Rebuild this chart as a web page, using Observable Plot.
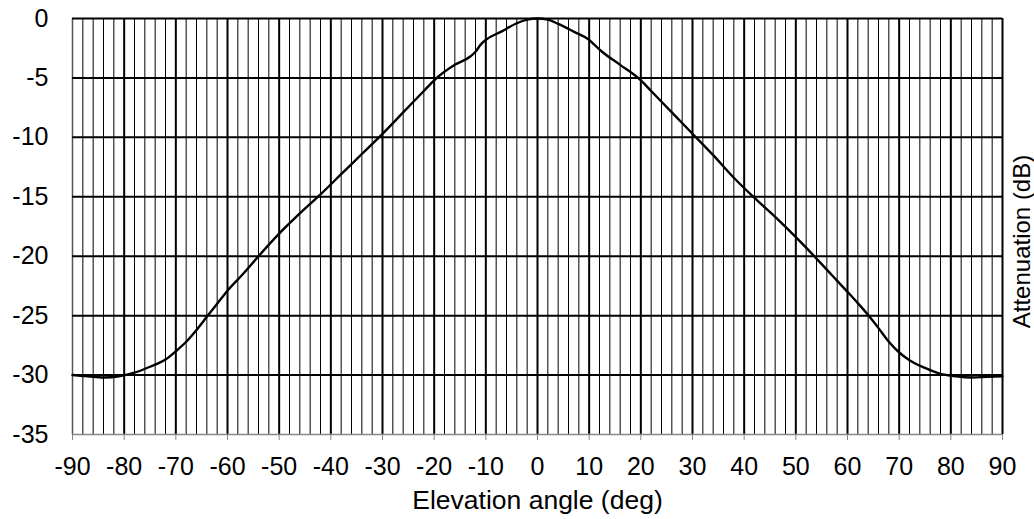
<!DOCTYPE html>
<html>
<head>
<meta charset="utf-8">
<script src="https://cdn.jsdelivr.net/npm/d3@7"></script>
<script src="https://cdn.jsdelivr.net/npm/@observablehq/plot@0.6"></script>
<style>
  html, body { margin: 0; padding: 0; background: #fff; }
  #chart { width: 1034px; height: 519px; }
</style>
</head>
<body>
<div id="chart"></div>
<script>
// Elevation angle (deg)
const angles = [-90,-87,-84,-81,-78,-75,-72,-70,-68,-66,-64,-62,-60,-57,-54,-50,-46,-42,-38,-34,-30,-26,-22,-20,-16,-13,-12,-11,-10,-7,-4,-2,0,2,4,7,10,11,12.5,16,20,22,26,30,34,38,42,46,50,54,57,60,62,64,66,68,70,72,75,78,81,84,87,90];
// Attenuation (dB)
const attenuation = [-30.0,-30.1,-30.2,-30.1,-29.8,-29.3,-28.7,-28.0,-27.2,-26.2,-25.1,-24.0,-22.9,-21.5,-20.0,-18.1,-16.4,-14.8,-13.1,-11.4,-9.7,-7.9,-6.1,-5.2,-3.9,-3.2,-2.8,-2.2,-1.8,-1.1,-0.4,-0.1,0,-0.1,-0.45,-1.1,-1.8,-2.2,-2.8,-3.9,-5.2,-6.1,-7.9,-9.7,-11.5,-13.4,-15.1,-16.7,-18.4,-20.2,-21.6,-23.0,-23.95,-24.95,-26.05,-27.2,-28.1,-28.75,-29.4,-29.9,-30.1,-30.2,-30.15,-30.1];
const xTicks = [-90,-80,-70,-60,-50,-40,-30,-20,-10,0,10,20,30,40,50,60,70,80,90];
const xMinor = [-88,-86,-84,-82,-78,-76,-74,-72,-68,-66,-64,-62,-58,-56,-54,-52,-48,-46,-44,-42,-38,-36,-34,-32,-28,-26,-24,-22,-18,-16,-14,-12,-8,-6,-4,-2,2,4,6,8,12,14,16,18,22,24,26,28,32,34,36,38,42,44,46,48,52,54,56,58,62,64,66,68,72,74,76,78,82,84,86,88];
const yTicks = [0,-5,-10,-15,-20,-25,-30,-35];
const yGrid = [0,-5,-10,-15,-20,-25,-30];
const xTitle = "Elevation angle (deg)";
const yTitle = "Attenuation (dB)";

const data = angles.map((a, i) => ({angle: a, db: attenuation[i]}));
const font = "'Liberation Sans', Arial, sans-serif";

const chart = Plot.plot({
  width: 1034,
  height: 519,
  marginLeft: 72,
  marginRight: 32,
  marginTop: 18,
  marginBottom: 85,
  style: {fontFamily: font, background: "#fff", color: "#000"},
  x: {domain: [-90, 90]},
  y: {domain: [-35, 0]},
  marks: [
    Plot.ruleX(xMinor, {stroke: "#000", strokeWidth: 1}),
    Plot.ruleX(xTicks.filter(d => d !== -90), {stroke: "#000", strokeWidth: 2}),
    Plot.ruleX([-90], {stroke: "#555", strokeWidth: 1.5}),
    Plot.ruleY(yGrid, {stroke: "#000", strokeWidth: 2}),
    Plot.ruleY([-35], {stroke: "#888", strokeWidth: 1.5}),
    Plot.axisX({ticks: xTicks, tickSize: 6, tickPadding: 17, stroke: "#888", fill: "#000", fontSize: 25, label: null, tickFormat: d => String(d)}),
    Plot.axisY({ticks: yTicks, tickSize: 0, tickPadding: 24, fill: "#000", fontSize: 25, label: null, tickFormat: d => String(d)}),
    Plot.line(data, {x: "angle", y: "db", stroke: "#000", strokeWidth: 2.4, curve: "monotone-x"}),
    Plot.text([xTitle], {frameAnchor: "bottom", lineAnchor: "middle", textAnchor: "middle", dy: 66, fontSize: 26.5, fill: "#000"}),
    Plot.text([yTitle], {frameAnchor: "right", rotate: -90, lineAnchor: "middle", textAnchor: "middle", dx: 20, dy: 15, fontSize: 24, fill: "#000"})
  ]
});
document.getElementById("chart").appendChild(chart);
</script>
</body>
</html>
